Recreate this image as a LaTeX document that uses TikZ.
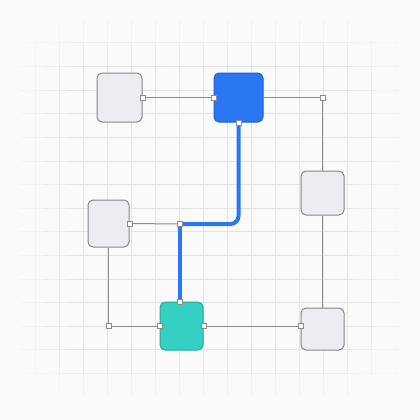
\documentclass[tikz,border=0pt]{standalone}
\usetikzlibrary{calc}
\definecolor{bgc}{HTML}{FAFAFA}
\definecolor{gridc}{HTML}{E3E3E5}
\definecolor{boxfill}{HTML}{ECEDF0}
\definecolor{boxdraw}{HTML}{86868A}
\definecolor{bluefill}{HTML}{2B76F2}
\definecolor{bluedraw}{HTML}{1D5ED0}
\definecolor{tealfill}{HTML}{33D0C3}
\definecolor{tealdraw}{HTML}{27A89C}
\definecolor{wirec}{HTML}{8C8C8C}
\begin{document}
\begin{tikzpicture}[x=1pt,y=-1pt,
  box/.style={draw=boxdraw, fill=boxfill, line width=1pt, rounded corners=5pt, inner sep=0pt},
  bluebox/.style={box, draw=bluedraw, fill=bluefill},
  tealbox/.style={box, draw=tealdraw, fill=tealfill},
  port/.style={draw=wirec, fill=white, line width=0.8pt, minimum size=5pt, inner sep=0pt},
  wire/.style={draw=wirec, line width=1pt},
  hot/.style={draw=bluefill, line width=4pt},
  gridline/.style={draw=gridc, line width=1pt}]
\useasboundingbox (0,0) rectangle (420,420);
\fill[bgc] (0,0) rectangle (420,420);
% grid, fading towards the edges
\foreach \k in {0,...,15} {
  \pgfmathsetmacro\xx{35+24*\k}
  \foreach \s in {0,...,15} {
    \pgfmathsetmacro\ya{20+\s*23.5625}
    \pgfmathsetmacro\yb{\ya+23.5625}
    \pgfmathsetmacro\op{min(1,min(\xx-10,410-\xx)/70)*min(1,min(\ya+1.8,398.2-\ya)/70)}
    \draw[gridline, opacity=\op] (\xx,\ya) -- (\xx,\yb);
  }
}
\foreach \k in {0,...,14} {
  \pgfmathsetmacro\yy{43+23.6*\k}
  \foreach \s in {0,...,15} {
    \pgfmathsetmacro\xa{20+\s*23.75}
    \pgfmathsetmacro\xb{\xa+23.75}
    \pgfmathsetmacro\op{min(1,min(\yy-10,410-\yy)/70)*min(1,min(\xa+1.9,398.1-\xa)/70)}
    \draw[gridline, opacity=\op] (\xa,\yy) -- (\xb,\yy);
  }
}
% nodes
\node[box, minimum width=45pt, minimum height=49pt] (A) at (119.5,97.5) {};
\node[bluebox, minimum width=49pt, minimum height=49pt] (B) at (238.5,97.5) {};
\node[box, minimum width=43pt, minimum height=44pt] (C) at (322.5,193) {};
\node[box, minimum width=41pt, minimum height=47pt] (D) at (108.5,223.5) {};
\node[tealbox, minimum width=43pt, minimum height=48pt] (E) at (181.5,326) {};
\node[box, minimum width=43pt, minimum height=42pt] (F) at (322.5,329) {};
\coordinate (c1) at (322.5,97.5);
\coordinate (j) at (179.5,224);
\coordinate (c2) at (108.5,326);
\coordinate (bend) at (B.south |- j);
\coordinate (en) at (j |- E.north);
\coordinate (fw) at (E.east -| F.west);
% wires
\draw[wire] (A.east) -- (B.west);
\draw[wire] (B.east) -- (c1) -- (C.north);
\draw[wire] (D.east) -- (j);
\draw[wire] (D.south) -- (c2) -- (E.west);
\draw[wire] (E.east) -- (fw);
\draw[wire] (C.south) -- (F.north);
\draw[hot, rounded corners=8pt] (B.south) -- (bend) -- (j);
\draw[hot] (j) -- (en);
% ports
\foreach \p in {A.east, B.west, B.south, c1, j, D.east, c2, E.west, E.east, en, fw}
  \node[port] at (\p) {};
\end{tikzpicture}
\end{document}
